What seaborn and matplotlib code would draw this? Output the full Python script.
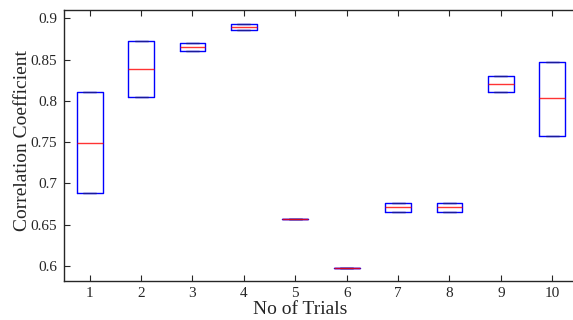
import pandas as pd
import matplotlib
matplotlib.use("Agg")
import matplotlib.pyplot as plt
import seaborn as sns

# box stats (lower edge, median, upper edge)
trials = [1, 2, 3, 4, 5, 6, 7, 8, 9, 10]
lows = [0.6887, 0.805, 0.8605, 0.886, 0.6566, 0.598, 0.6657, 0.6657, 0.811, 0.758]
meds = [0.749, 0.839, 0.865, 0.8895, 0.6566, 0.598, 0.6709, 0.6709, 0.8207, 0.803]
highs = [0.8105, 0.873, 0.8698, 0.893, 0.6566, 0.598, 0.6766, 0.6766, 0.8307, 0.8476]

# build a small sample per trial so Q1 = low, median = med, Q3 = high
rows = []
for t, lo, md, hi in zip(trials, lows, meds, highs):
    for v in (lo, lo, md, hi, hi):
        rows.append({"trial": t, "value": v})
df = pd.DataFrame(rows)

sns.set_style("ticks")
plt.rcParams["font.family"] = ["Liberation Serif", "DejaVu Serif"]

fig = plt.figure(figsize=(5.73, 3.2), dpi=100)
ax = fig.add_axes([0.1117, 0.1234, 0.897, 0.8453])

sns.boxplot(data=df, x="trial", y="value", ax=ax, width=0.5, fill=False,
            color="blue", linewidth=1.0, whis=1.5, showfliers=False,
            medianprops=dict(color="red", linewidth=1.0, alpha=0.8),
            whiskerprops=dict(color="black", linestyle="--"),
            capprops=dict(color="#1a1a9a"))

ax.set_ylim(0.5825, 0.91)
ax.set_xlim(-0.5, 9.5)
ax.set_yticks([0.6, 0.65, 0.7, 0.75, 0.8, 0.85, 0.9])
ax.set_yticklabels(["0.6", "0.65", "0.7", "0.75", "0.8", "0.85", "0.9"])
ax.set_xticks(range(len(trials)))
ax.set_xticklabels([str(t) for t in trials])

ax.tick_params(direction="in", length=4, width=0.8, top=True, right=False,
               labelsize=11, colors="#262626", pad=5)
for s in ax.spines.values():
    s.set_linewidth(1.0)
    s.set_color("#262626")

ax.set_xlabel("No of Trials", fontsize=14, color="#262626", va="center")
ax.set_ylabel("Correlation Coefficient", fontsize=14, color="#262626", va="center")
ax.xaxis.set_label_coords(0.459, -0.108)
ax.yaxis.set_label_coords(-0.0817, 0.519)

fig.savefig("out.png", dpi=100)
